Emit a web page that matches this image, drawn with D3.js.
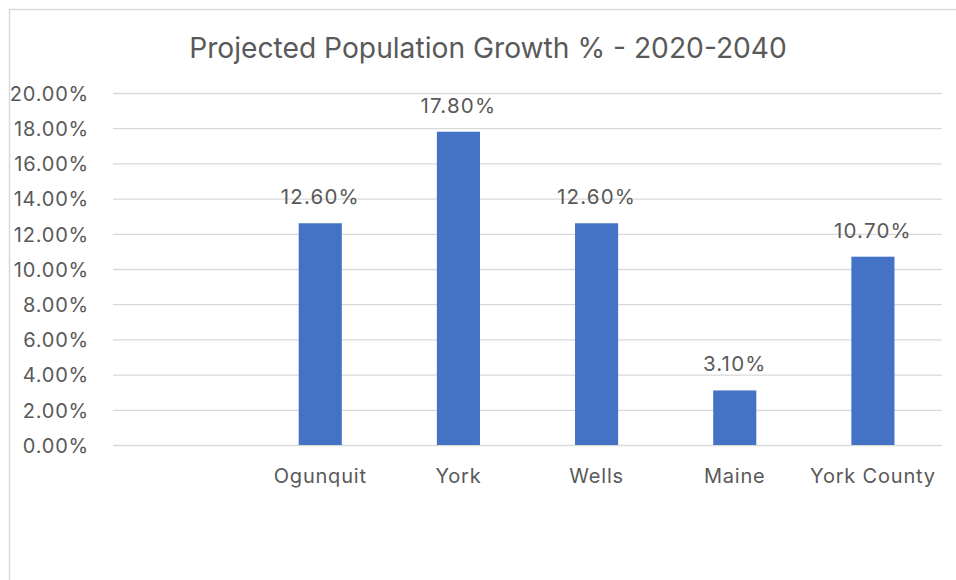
<!DOCTYPE html>
<html>
<head>
<meta charset="utf-8">
<script src="https://cdn.jsdelivr.net/npm/d3@7"></script>
<style>
  html, body { margin: 0; padding: 0; background: #fff; }
  svg { display: block; }
  text { font-family: Inter, "Open Sans", sans-serif; fill: #595959; }
</style>
</head>
<body>
<svg id="chart" width="956" height="580"></svg>
<script>
// Projected growth by place; the leading blank slot is kept as an empty category
const categories = ["", "Ogunquit", "York", "Wells", "Maine", "York County"];
const growth = [null, 12.6, 17.8, 12.6, 3.1, 10.7];
const yTicks = [0, 2, 4, 6, 8, 10, 12, 14, 16, 18, 20];
const title = "Projected Population Growth % - 2020-2040";

const svg = d3.select("#chart");
const W = 956, H = 580;
const plot = { left: 113, right: 942, top: 93, bottom: 445 };

// outer frame
svg.append("rect")
  .attr("x", 9.5).attr("y", 9.5)
  .attr("width", W + 20).attr("height", H + 20)
  .attr("fill", "#fff")
  .attr("stroke", "#d9d9d9")
  .attr("stroke-width", 1.5);

const x = d3.scaleBand()
  .domain(categories)
  .range([plot.left, plot.right])
  .paddingInner(0.688)
  .paddingOuter(0.344);

const y = d3.scaleLinear()
  .domain([0, 20])
  .range([plot.bottom, plot.top]);

// gridlines + y labels
const yAxis = d3.axisLeft(y)
  .tickValues(yTicks)
  .tickSize(-(plot.right - plot.left))
  .tickPadding(24)
  .tickFormat(d => d3.format(".2f")(d) + "%");

const gy = svg.append("g")
  .attr("transform", `translate(${plot.left},0)`)
  .call(yAxis);
gy.select(".domain").remove();
gy.selectAll(".tick line").attr("stroke", "#d9d9d9").attr("stroke-width", 1.3);
gy.selectAll(".tick text")
  .attr("fill", "#595959")
  .style("font-size", "20px")
  .style("letter-spacing", "0.8px")
  .attr("dy", "0.36em");

// bars
const data = categories.map((c, i) => ({ c, v: growth[i] })).filter(d => d.v != null);

svg.append("g").selectAll("rect")
  .data(data)
  .join("rect")
  .attr("x", d => x(d.c))
  .attr("y", d => y(d.v))
  .attr("width", x.bandwidth())
  .attr("height", d => y(0) - y(d.v))
  .attr("fill", "#4472c4");

// value labels
svg.append("g").selectAll("text")
  .data(data)
  .join("text")
  .attr("x", d => x(d.c) + x.bandwidth() / 2)
  .attr("y", d => y(d.v) - 19)
  .attr("text-anchor", "middle")
  .style("font-size", "20.5px")
  .style("letter-spacing", "1.2px")
  .text(d => d3.format(".2f")(d.v) + "%");

// x axis labels
const xAxis = d3.axisBottom(x).tickSize(0).tickPadding(0);
const gx = svg.append("g")
  .attr("transform", `translate(0,${plot.bottom})`)
  .call(xAxis);
gx.select(".domain").remove();
gx.selectAll(".tick text")
  .attr("fill", "#595959")
  .attr("y", 38)
  .attr("dy", 0)
  .style("font-size", "20px")
  .style("letter-spacing", "0.8px");

// title
svg.append("text")
  .attr("x", 488)
  .attr("y", 58)
  .attr("text-anchor", "middle")
  .style("font-size", "28.2px")
  .text(title);
</script>
</body>
</html>
